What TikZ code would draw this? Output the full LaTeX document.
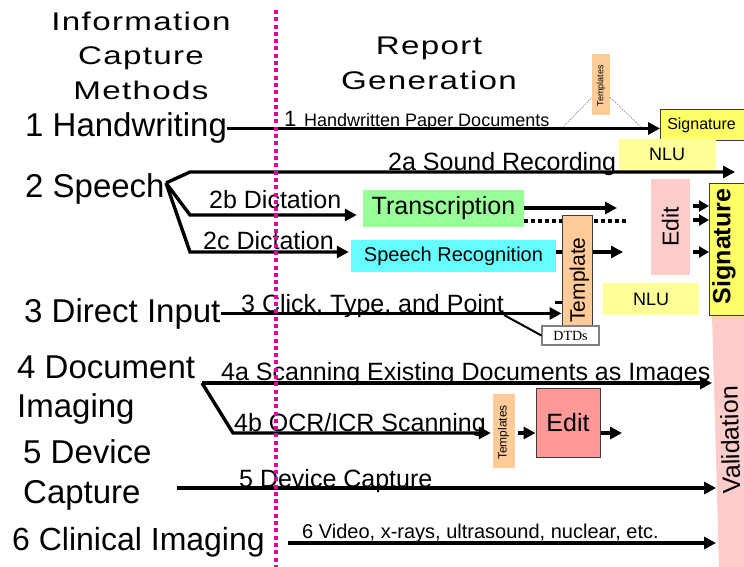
\documentclass[tikz,border=0pt]{standalone}
\usepackage{graphicx}
\usepackage{fontspec}
\setmainfont{Liberation Sans}
\newfontfamily\headfont[LetterSpace=4]{Liberation Sans}
\newfontfamily\dtdfont{Liberation Serif}
\usetikzlibrary{arrows.meta}

\newcommand\setfs[1]{\fontsize{#1pt}{#1pt}\selectfont}
\newcommand\widehead[1]{\scalebox{1.3}[1]{#1}}

\definecolor{divmag}{RGB}{220,0,160}
\definecolor{greenbox}{RGB}{153,255,153}
\definecolor{cyanbox}{RGB}{102,255,255}
\definecolor{orangebox}{RGB}{255,204,153}
\definecolor{pinkbox}{RGB}{255,204,204}
\definecolor{redbox}{RGB}{255,153,153}
\definecolor{sigyellow}{RGB}{255,255,102}
\definecolor{nluyellow}{RGB}{255,255,153}
\definecolor{boxline}{RGB}{60,60,60}

\tikzset{
  lbl/.style={inner sep=0pt, anchor=base west},
  rowlbl/.style={lbl, font=\setfs{33}},
  midlbl/.style={lbl, font=\setfs{25}},
  headlbl/.style={inner sep=0pt, anchor=base, font=\headfont\setfs{25.5}},
  flow/.style={line width=3.4pt, -{Triangle[length=12pt,width=12pt]}},
  tinyflow/.style={line width=3.4pt, -{Triangle[length=10pt,width=11pt]}},
  dotflow/.style={line width=3.4pt, dash pattern=on 4pt off 3pt},
  hint/.style={line width=0.7pt, gray, dash pattern=on 1.2pt off 1.2pt},
  divider/.style={line width=3.3pt, divmag, dash pattern=on 4pt off 3.3pt},
  fillbox/.style={inner sep=0pt, draw=none},
  edgebox/.style={inner sep=0pt, draw=boxline, line width=1pt},
}

\begin{document}
\begin{tikzpicture}[x=1pt,y=-1pt]
\useasboundingbox (0,0) rectangle (744,567);

% column headings
\node[headlbl] (h1a) at (141,31) {\widehead{Information}};
\node[headlbl] (h1b) at (141,65) {\widehead{Capture}};
\node[headlbl] (h1c) at (141,100) {\widehead{Methods}};
\node[headlbl] (h2a) at (429,55) {\widehead{Report}};
\node[headlbl] (h2b) at (429,90) {\widehead{Generation}};

% capture methods
\node[rowlbl] (hw) at (25,137) {1 Handwriting};
\node[rowlbl] (sp) at (25,197) {2 Speech};
\node[rowlbl] (di) at (24,322) {3 Direct Input};
\node[rowlbl] (doc) at (17,378) {4 Document};
\node[rowlbl] (img) at (17,417) {Imaging};
\node[rowlbl] (dev) at (23,463) {5 Device};
\node[rowlbl] (cap) at (23,503) {Capture};
\node[rowlbl, font=\setfs{32}] (cli) at (12,550) {6 Clinical Imaging};

% validation band
\coordinate (va) at (712,315);
\coordinate (vb) at (752,315);
\coordinate (vc) at (759,567);
\coordinate (vd) at (719,567);
\fill[pinkbox] (va) -- (vb) -- (vc) -- (vd) -- cycle;
\node[inner sep=0pt, rotate=91.6, font=\setfs{25}] (valid) at (730,440) {Validation};

% boxes
\node[fillbox, fill=orangebox, minimum width=18pt, minimum height=61pt] (tmpl1) at (601,84.5) {};
\node[inner sep=0pt, rotate=90, font=\setfs{9}] (tmpl1t) at (601,86) {Templates};
\node[edgebox, fill=sigyellow, minimum width=90pt, minimum height=31pt, anchor=north west] (sig1) at (660,109) {};
\node[inner sep=0pt, font=\setfs{16}] (sig1t) at (701.5,125) {Signature};
\node[fillbox, fill=nluyellow, minimum width=97pt, minimum height=31pt] (nlu1) at (667.5,154.5) {};
\node[inner sep=0pt, font=\setfs{18}] (nlu1t) at (667,154.5) {NLU};

\node[fillbox, fill=greenbox, minimum width=161pt, minimum height=37pt, font=\setfs{25}] (trans) at (443.5,208.5) {Transcription};
\node[fillbox, fill=cyanbox, minimum width=205pt, minimum height=32pt, font=\setfs{20}] (sprec) at (453.5,256) {Speech Recognition};
\node[fillbox, fill=pinkbox, minimum width=39pt, minimum height=96pt] (edit1) at (670.5,227) {};
\node[inner sep=0pt, rotate=90, font=\setfs{23}] (edit1t) at (670.5,227) {Edit};
\node[fillbox, fill=nluyellow, minimum width=96pt, minimum height=32pt, font=\setfs{18}] (nlu2) at (651,299) {NLU};

% speech branches
\coordinate (fk2) at (166,183);
\coordinate (b2a) at (190,172);
\coordinate (e2a) at (735,172);
\coordinate (b2b) at (190,215);
\coordinate (b2c) at (190,252);
\draw[flow] (fk2) -- (b2a) -- (e2a);
\draw[flow, shorten >=6pt] (fk2) -- (b2b) -- (b2b -| trans.west);
\draw[flow, shorten >=2pt] (fk2) -- (b2c) -- (b2c -| sprec.west);

\coordinate (e2b) at (617,208);
\coordinate (dd) at (627,221);
\coordinate (e2c) at (623,252);
\draw[flow] (trans.east |- e2b) -- (e2b);
\draw[dotflow] (trans.east |- dd) -- (dd);
\draw[flow] (sprec.east |- e2c) -- (e2c);

% handwriting
\draw[flow] (hw.east) -- (hw.east -| sig1.west);
\coordinate (hl) at (563,127);
\coordinate (hr) at (641,127);
\draw[hint] (hl) -- ([yshift=-13pt]tmpl1.west);
\draw[hint] ([yshift=-13pt]tmpl1.east) -- (hr);

% template block and direct input
\node[edgebox, fill=orangebox, minimum width=30pt, minimum height=112pt] (tmpl2) at (577,271) {};
\node[inner sep=0pt, rotate=90, font=\setfs{21}] (tmpl2t) at (579.5,280) {Template};
\draw[flow] (di.east) -- (di.east -| tmpl2.west);
\coordinate (stub) at (555,302);
\draw[line width=3pt] (stub) -- (stub -| tmpl2.west);
\coordinate (dtdb) at (504,315);
\node[inner sep=0pt, draw=gray, fill=white, line width=1.2pt, minimum width=57pt, minimum height=19pt, font=\dtdfont\setfs{14}] (dtd) at (570.5,335.5) {DTDs};
\draw[line width=2pt] (dtdb) -- (dtd.west);

% signature column
\node[edgebox, fill=sigyellow, minimum width=41pt, minimum height=132pt, anchor=north west] (sig2) at (709,183) {};
\node[inner sep=0pt, rotate=90, font=\bfseries\setfs{25}] (sig2t) at (724,246.5) {Signature};
\coordinate (s1) at (693,206);
\coordinate (s2) at (693,220);
\coordinate (s3) at (693,252);
\draw[tinyflow] (s1) -- (s1 -| sig2.west);
\draw[tinyflow] (s2) -- (s2 -| sig2.west);
\draw[tinyflow] (s3) -- (s3 -| sig2.west);

% document imaging
\coordinate (fk4) at (202,383);
\coordinate (e4a) at (712,383);
\coordinate (b4b) at (233,433);
\coordinate (e4b) at (622,433);
\node[fillbox, fill=orangebox, minimum width=22pt, minimum height=74pt] (tmpl3) at (504,431) {};
\node[inner sep=0pt, rotate=90, font=\setfs{12}] (tmpl3t) at (503.5,432.5) {Templates};
\node[edgebox, fill=redbox, minimum width=64pt, minimum height=69pt, font=\setfs{25}] (edit2) at (568,422.5) {Edit};
\draw[flow] (fk4) -- (e4a);
\draw[flow, shorten >=2pt] (fk4) -- (b4b) -- (b4b -| tmpl3.west);
\draw[flow, shorten <=3pt] (tmpl3.east |- b4b) -- (edit2.west |- b4b);
\draw[flow] (edit2.east |- b4b) -- (e4b);

% device capture and clinical imaging
\coordinate (s5) at (177,488);
\coordinate (e5) at (716,488);
\coordinate (s6) at (288,543);
\coordinate (e6) at (716,543);
\draw[flow] (s5) -- (e5);
\draw[flow] (s6) -- (e6);

% report generation labels
\node[lbl, font=\setfs{22}] (l1n) at (284,127) {1};
\node[lbl, font=\setfs{18}] (l1) at (304,127) {Handwritten Paper Documents};
\node[midlbl] (l2a) at (388,170) {2a Sound Recording};
\node[midlbl] (l2b) at (209,208) {2b Dictation};
\node[midlbl] (l2c) at (203,249) {2c Dictation};
\node[midlbl] (l3) at (241,312) {3 Click, Type, and Point};
\node[midlbl] (l4a) at (221,380) {4a Scanning Existing Documents as Images};
\node[midlbl] (l4b) at (234,431) {4b OCR/ICR Scanning};
\node[midlbl] (l5) at (239,487) {5 Device Capture};
\node[lbl, font=\setfs{20}] (l6) at (302,538) {6 Video, x-rays, ultrasound, nuclear, etc.};

% column divider
\coordinate (dtop) at (276,10);
\coordinate (dbot) at (276,567);
\draw[divider] (dtop) -- (dbot);
\end{tikzpicture}
\end{document}
